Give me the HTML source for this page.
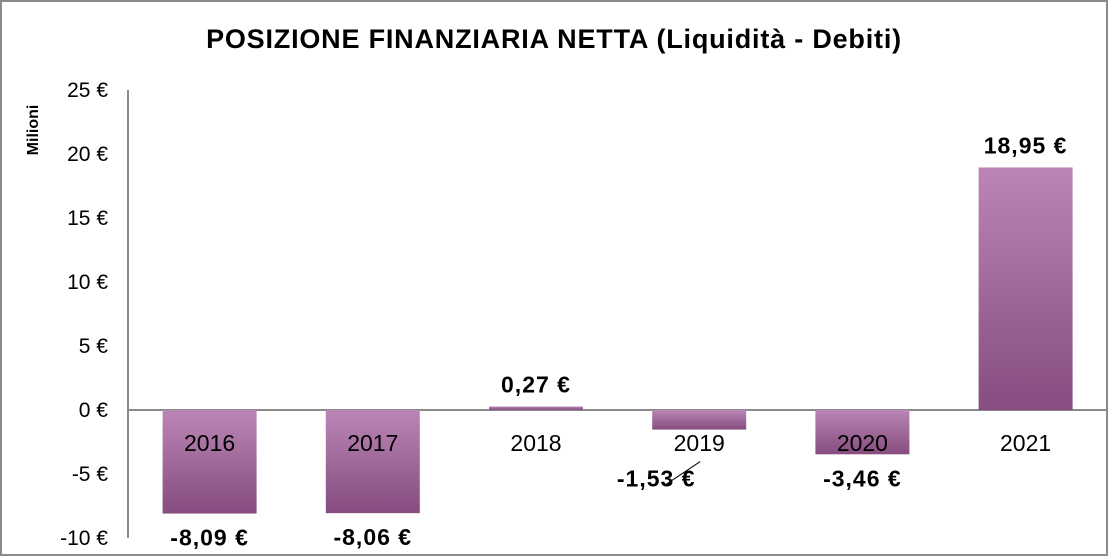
<!DOCTYPE html>
<html><head><meta charset="utf-8"><style>
body{margin:0;background:#fff}
svg{display:block;font-family:"Liberation Sans",sans-serif}
</style></head><body>
<svg id="chart" width="1108" height="556" viewBox="0 0 1108 556">
<defs>
<linearGradient id="g" x1="0" y1="0" x2="0" y2="1">
<stop offset="0" stop-color="#bb86b7"/><stop offset="0.45" stop-color="#a26c9c"/><stop offset="1" stop-color="#874c80"/>
</linearGradient>
</defs>
<rect x="1" y="1" width="1106" height="554" fill="#fff" stroke="#8a8a8a" stroke-width="2"/>
<text x="554" y="48" text-anchor="middle" font-size="27" font-weight="bold" letter-spacing="0.8" fill="#000">POSIZIONE FINANZIARIA NETTA (Liquidità - Debiti)</text>
<text transform="translate(38,130) rotate(-90)" text-anchor="middle" font-size="16" font-weight="bold">Milioni</text>
<g id="axes"></g>
<g id="bars"></g>
</svg>
<script>
const categories=["2016","2017","2018","2019","2020","2021"];
const values=[-8.09,-8.06,0.27,-1.53,-3.46,18.95];
const valueLabels=["-8,09 €","-8,06 €","0,27 €","-1,53 €","-3,46 €","18,95 €"];
const yTicks=[25,20,15,10,5,0,-5,-10];
const NS="http://www.w3.org/2000/svg";
const x0=128,step=163.2,barW=94;
function y(v){return 410-v*12.8;}
function xc(i){return x0+step*(i+0.5);}
const axes=document.getElementById('axes'),bars=document.getElementById('bars');
function mk(tag,attrs,parent){const e=document.createElementNS(NS,tag);for(const k in attrs)e.setAttribute(k,attrs[k]);parent.appendChild(e);return e;}
yTicks.forEach(t=>{
 const tx=mk('text',{x:108,y:y(t)+7,'text-anchor':'end','font-size':21,fill:'#000'},axes);
 
 
 tx.textContent=t+' €';
});
const ax=mk('line',{x1:x0,y1:y(25),x2:x0,y2:y(-10),stroke:'#8a8a8a','stroke-width':2},axes);


values.forEach((v,i)=>{
 const top=Math.min(y(v),y(0)),h=Math.abs(y(v)-y(0));
 const r=mk('rect',{x:xc(i)-barW/2,y:top,width:barW,height:h,fill:'url(#g)'},bars);
 
 
 const c=mk('text',{x:xc(i),y:451,'text-anchor':'middle','font-size':23,fill:'#000'},bars);
 
 
 c.textContent=categories[i];
 let ly=v>=0?y(v)-14:y(v)+32, lx=xc(i);
 if(i===3){lx=xc(i)-43;ly=y(v)+57;
  const ln=mk('line',{x1:xc(i)-35,y1:y(v)+56,x2:xc(i)+1,y2:y(v)+32,stroke:'#000','stroke-width':1},bars);
  
  }
 const l=mk('text',{x:lx,y:ly,'text-anchor':'middle','font-size':23,'font-weight':'bold','letter-spacing':1,fill:'#000'},bars);
 
 
 l.textContent=valueLabels[i];
});
const zl=mk('line',{x1:x0,y1:y(0),x2:1106,y2:y(0),stroke:'#8a8a8a','stroke-width':2},axes);


</script>
</body></html>
